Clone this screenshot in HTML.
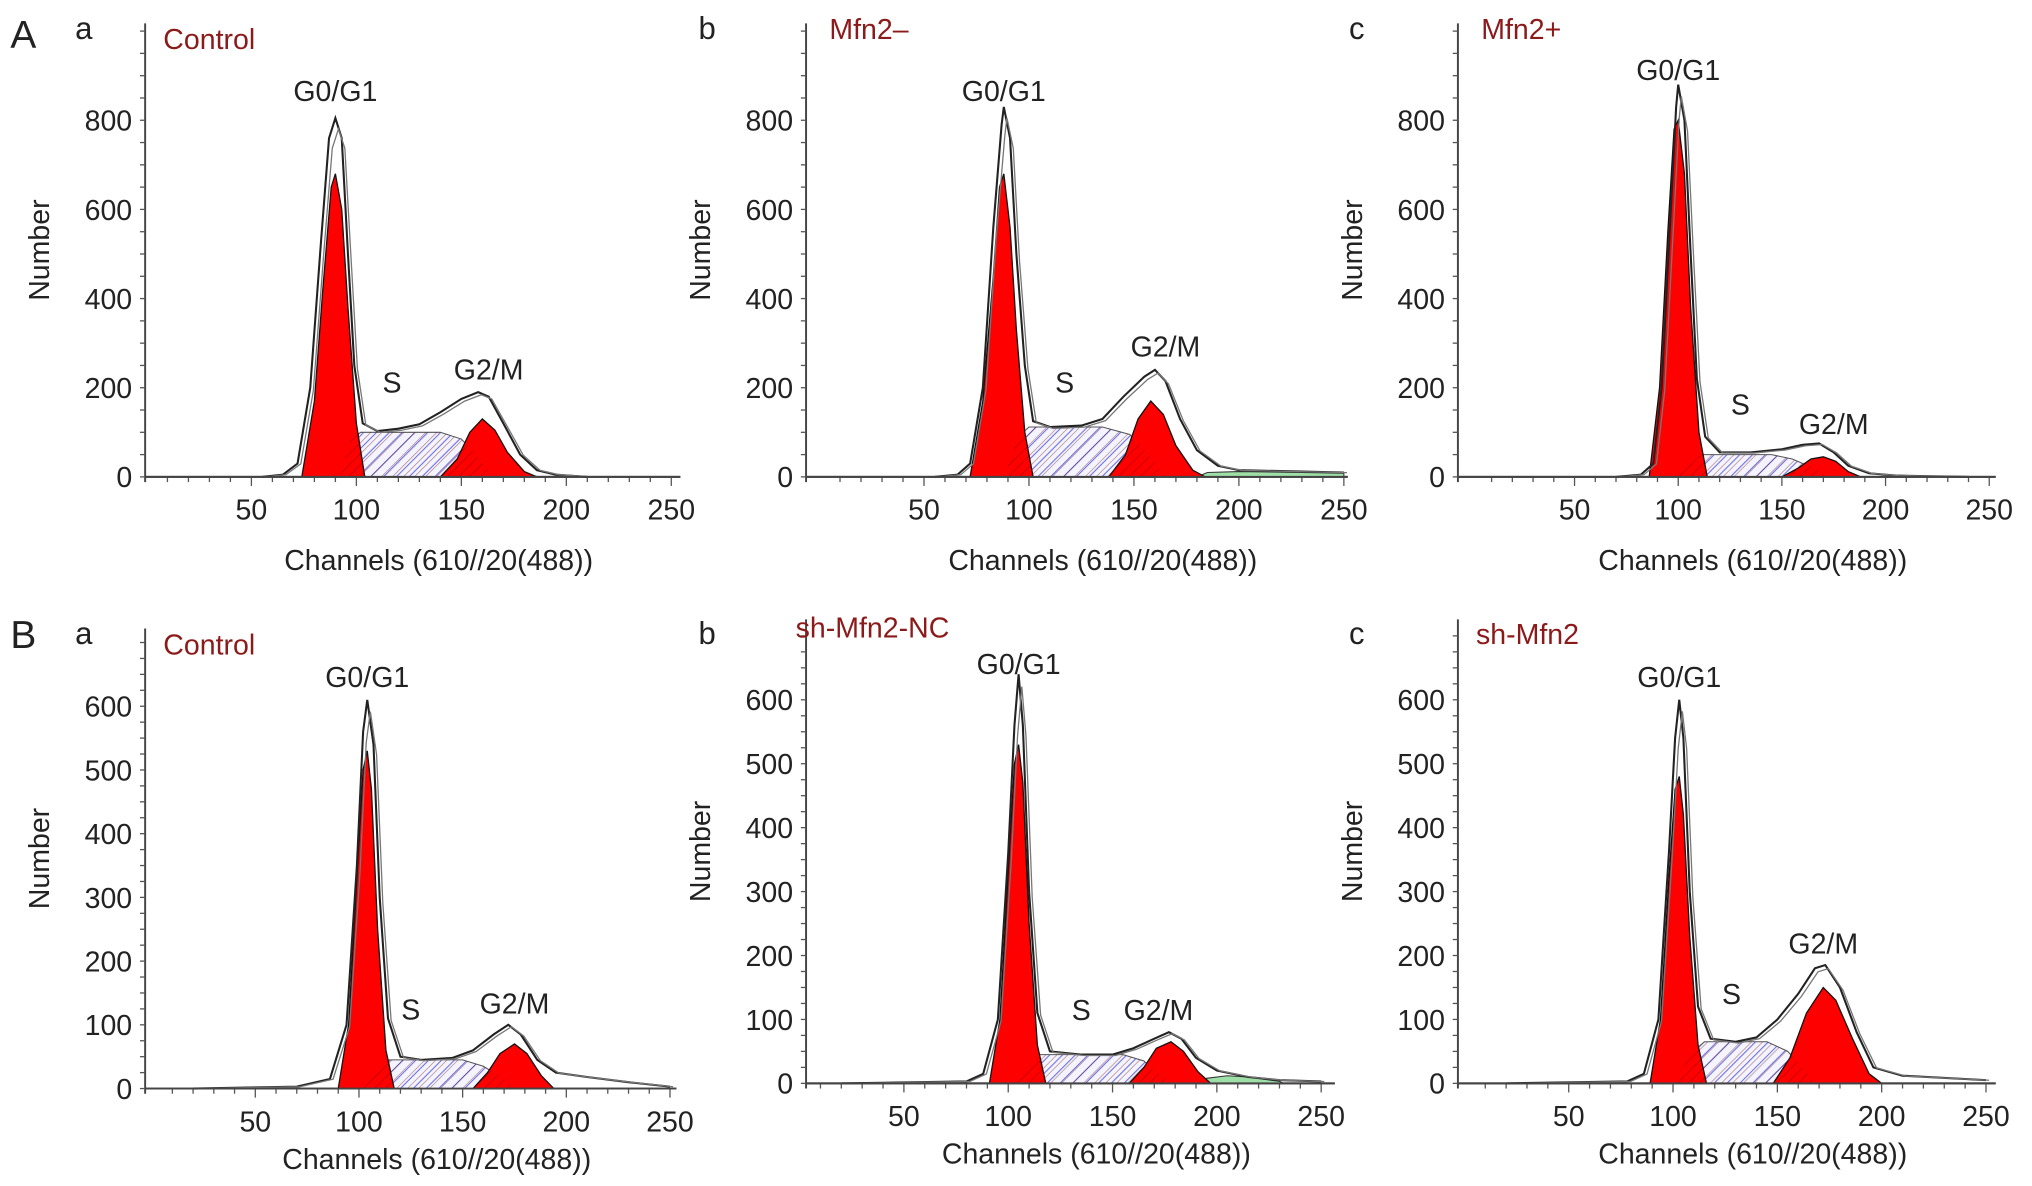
<!DOCTYPE html>
<html><head><meta charset="utf-8"><style>
html,body{margin:0;padding:0;background:#fff;}
svg{display:block;}
text{font-family:"Liberation Sans",Arial,sans-serif;fill:#222;}
</style></head><body>
<svg id="fig" width="2032" height="1186" viewBox="0 0 1568 915.2" preserveAspectRatio="none" xmlns="http://www.w3.org/2000/svg">
<defs>
<pattern id="hatch" patternUnits="userSpaceOnUse" width="7" height="7" patternTransform="rotate(45)">
<rect width="7" height="7" fill="#f4f4ff"/><line x1="0" y1="0" x2="0" y2="7" stroke="#6a6ae0" stroke-width="1.6"/></pattern>
<pattern id="hatchR" patternUnits="userSpaceOnUse" width="6" height="6" patternTransform="rotate(45)">
<line x1="0" y1="0" x2="0" y2="6" stroke="#600" stroke-width="1"/></pattern>
</defs>
<text x="8" y="37" font-size="30">A</text>
<text x="8" y="500" font-size="30">B</text>
</svg>
<script>
// ---- data (channel, count) ----
const panelTitles = ["Control","Mfn2–","Mfn2+","Control","sh-Mfn2-NC","sh-Mfn2"];
const subLetters = ["a","b","c","a","b","c"];
const yTickLabelsA = [0,200,400,600,800];
const yTickLabelsB = [0,100,200,300,400,500,600];
const xTickLabels = [50,100,150,200,250];

const envA1 = [[55,0],[65,5],[72,30],[78,200],[83,520],[87,760],[90,805],[93,760],[96,500],[99,250],[103,120],[110,103],[120,108],[130,118],[140,145],[150,175],[158,190],[163,180],[170,120],[178,50],[186,15],[195,5],[210,0]];
const g1A1 = [[74,0],[80,170],[84,420],[88,650],[90,680],[93,600],[96,380],[100,120],[104,0]];
const sA1 = [[92,0],[97,80],[102,100],[140,100],[150,85],[158,45],[165,0]];
const g2A1 = [[140,0],[148,40],[154,100],[160,130],[166,105],[172,55],[180,12],[186,0]];
const dbA1 = [];

const envA2 = [[55,0],[66,5],[72,30],[78,200],[83,560],[87,790],[88,830],[91,760],[94,500],[98,250],[102,125],[110,112],[125,115],[135,130],[145,180],[155,225],[160,240],[165,215],[172,130],[180,60],[190,25],[200,15],[250,10]];
const g1A2 = [[72,0],[78,170],[83,450],[86,650],[88,680],[91,560],[94,330],[98,100],[102,0]];
const sA2 = [[88,0],[95,90],[100,112],[135,112],[148,95],[155,60],[165,0]];
const g2A2 = [[138,0],[146,50],[152,130],[158,170],[164,140],[170,70],[178,15],[184,0]];
const dbA2 = [[180,0],[185,10],[200,12],[230,10],[250,8],[250,0]];

const envA3 = [[70,0],[82,5],[88,30],[92,200],[96,560],[99,830],[100,880],[103,800],[106,500],[109,220],[113,90],[120,55],[135,55],[150,62],[160,72],[168,75],[175,55],[182,25],[192,8],[205,3],[240,0]];
const g1A3 = [[86,0],[91,200],[95,550],[98,780],[100,800],[103,680],[106,380],[110,100],[114,0]];
const sA3 = [[100,0],[106,40],[112,50],[145,50],[155,40],[165,20],[172,0]];
const g2A3 = [[150,0],[158,20],[164,40],[170,45],[176,35],[182,12],[188,0]];
const dbA3 = [];

const envB1 = [[20,0],[70,3],[86,15],[94,100],[99,350],[102,560],[104,610],[107,540],[110,300],[114,110],[120,50],[130,45],[145,48],[155,60],[165,85],[172,100],[178,85],[186,45],[195,25],[210,18],[230,10],[250,3]];
const g1B1 = [[90,0],[95,100],[99,330],[102,500],[104,530],[106,470],[109,250],[113,60],[117,0]];
const sB1 = [[102,0],[108,30],[114,45],[150,45],[160,35],[170,15],[176,0]];
const g2B1 = [[155,0],[162,25],[168,55],[175,70],[181,55],[188,20],[194,0]];
const dbB1 = [];

const envB2 = [[20,0],[80,3],[88,15],[95,100],[100,360],[103,560],[105,640],[107,560],[110,300],[114,110],[120,50],[135,45],[150,45],[160,55],[170,70],[177,80],[183,70],[190,40],[200,20],[215,10],[230,5],[250,3]];
const g1B2 = [[91,0],[96,100],[100,330],[103,500],[105,530],[107,470],[110,250],[114,60],[118,0]];
const sB2 = [[103,0],[109,30],[115,45],[155,45],[165,35],[172,15],[178,0]];
const g2B2 = [[158,0],[165,25],[171,55],[178,65],[184,50],[191,18],[197,0]];
const dbB2 = [[190,0],[195,8],[205,12],[215,10],[230,3],[232,0]];

const envB3 = [[20,0],[78,3],[86,15],[93,100],[98,360],[101,540],[103,600],[105,540],[108,300],[112,120],[118,70],[130,65],[140,72],[150,100],[160,140],[168,180],[173,185],[180,150],[188,80],[196,25],[210,12],[250,5]];
const g1B3 = [[89,0],[94,100],[98,320],[101,460],[103,480],[105,420],[108,230],[112,60],[116,0]];
const sB3 = [[101,0],[108,45],[115,65],[145,65],[155,50],[162,25],[168,0]];
const g2B3 = [[148,0],[156,40],[164,110],[172,150],[178,130],[186,70],[194,15],[200,0]];
const dbB3 = [];

const envs=[envA1,envA2,envA3,envB1,envB2,envB3];
const g1s=[g1A1,g1A2,g1A3,g1B1,g1B2,g1B3];
const ss=[sA1,sA2,sA3,sB1,sB2,sB3];
const g2s=[g2A1,g2A2,g2A3,g2B1,g2B2,g2B3];
const dbs=[dbA1,dbA2,dbA3,dbB1,dbB2,dbB3];
// phase label anchors (channel,count)
const g1Label=[[90,843],[88,843],[100,890],[104,630],[105,640],[103,620]];
const sLabel=[[117,189],[117,189],[130,140],[125,108],[135,99],[128,124]];
const g2Label=[[163,218],[165,270],[175,96],[175,118],[172,99],[172,203]];

// ---- layout (pixels in 1568-wide view) ----
const geo=[
 {ax:112,x0:113,kx:1.62,y0:368,ky:0.344,right:525,top:18,ymax:1000,minor:50,ticks:yTickLabelsA,row:0,col:0},
 {ax:622,x0:632,kx:1.62,y0:368,ky:0.344,right:1040,top:18,ymax:1000,minor:50,ticks:yTickLabelsA,row:0,col:1},
 {ax:1125,x0:1135,kx:1.60,y0:368,ky:0.344,right:1540,top:18,ymax:1000,minor:50,ticks:yTickLabelsA,row:0,col:2},
 {ax:112,x0:117,kx:1.60,y0:840,ky:0.4917,right:522,top:485,ymax:720,minor:25,ticks:yTickLabelsB,row:1,col:0},
 {ax:622,x0:617,kx:1.61,y0:836,ky:0.4933,right:1030,top:478,ymax:720,minor:25,ticks:yTickLabelsB,row:1,col:1},
 {ax:1125,x0:1130,kx:1.61,y0:836,ky:0.4933,right:1540,top:478,ymax:720,minor:25,ticks:yTickLabelsB,row:1,col:2}
];
const titleXY=[[126,38],[640,30],[1143,30],[126,505],[614,492],[1139,497]];
const subX=[58,539,1041];
const NS="http://www.w3.org/2000/svg";
const svg=document.getElementById('fig');
function mk(tag,attrs,parent){const e=document.createElementNS(NS,tag);for(const k in attrs)e.setAttribute(k,attrs[k]);(parent||svg).appendChild(e);return e;}
geo.forEach((g,i)=>{
 const grp=mk('g',{});
 
 
 const X=c=>g.x0+c*g.kx, Y=v=>g.y0-v*g.ky;
 const pts=a=>a.map(p=>X(p[0]).toFixed(1)+','+Y(p[1]).toFixed(1)).join(' ');
 const ya=mk('line',{x1:g.ax,y1:g.top,x2:g.ax,y2:g.y0+4,stroke:'#444','stroke-width':1.5},grp);
 
 
 const xa=mk('line',{x1:g.ax,y1:g.y0,x2:g.right,y2:g.y0,stroke:'#444','stroke-width':1.5},grp);
 
 
 for(let v=0;v<=g.ymax;v+=g.minor){mk('line',{x1:g.ax-4,y1:Y(v),x2:g.ax,y2:Y(v),stroke:'#555','stroke-width':1},grp);}
 g.ticks.forEach(t=>{const tx=mk('text',{x:g.ax-10,y:Y(t)+8,'font-size':22,'text-anchor':'end'},grp);tx.textContent=t;
  
  });
 for(let c=10;c<=250;c+=10){mk('line',{x1:X(c),y1:g.y0,x2:X(c),y2:g.y0+(c%50?4:7),stroke:'#555','stroke-width':1},grp);}
 xTickLabels.forEach(t=>{const tx=mk('text',{x:X(t),y:g.y0+33,'font-size':22,'text-anchor':'middle'},grp);tx.textContent=t;
  
  });
 const xt=mk('text',{x:(g.ax+g.right)/2+20,y:g.y0+(g.row?62:72),'font-size':22,'text-anchor':'middle'},grp);xt.textContent='Channels (610//20(488))';
 
 
 const yc=(g.top+g.y0)/2;
 const yt=mk('text',{x:g.ax-74,y:yc,'font-size':22,'text-anchor':'middle',transform:`rotate(-90 ${g.ax-74} ${yc})`},grp);yt.textContent='Number';
 
 
 if(dbs[i].length){const d=mk('polygon',{points:pts(dbs[i]),fill:'#9fe0a8',stroke:'#333','stroke-width':0.8},grp);
  
  }
 const s=mk('polygon',{points:pts(ss[i]),fill:'url(#hatch)',stroke:'#555','stroke-width':0.8},grp);
 
 
 const r1=mk('polygon',{points:pts(g1s[i]),fill:'#f00',stroke:'#111','stroke-width':1},grp);
 
 
 const r2=mk('polygon',{points:pts(g2s[i]),fill:'#f00',stroke:'#111','stroke-width':1},grp);
 
 
 mk('polygon',{points:pts(ss[i]),fill:'url(#hatchR)',opacity:0.5},grp);
 const e1=mk('polyline',{points:pts(envs[i]),fill:'none',stroke:'#222','stroke-width':1.6},grp);
 
 
 mk('polyline',{points:pts(envs[i].map(p=>[p[0]+1.5,p[1]*0.97])),fill:'none',stroke:'#777','stroke-width':1},grp);
 mk('line',{x1:g.ax,y1:g.y0,x2:g.right,y2:g.y0,stroke:'#444','stroke-width':1.5},grp);
 [[g1Label[i],'G0/G1','g0g1-label'],[sLabel[i],'S','s-phase-label'],[g2Label[i],'G2/M','g2m-label']].forEach(L=>{
  const t=mk('text',{x:X(L[0][0]),y:Y(L[0][1]),'font-size':22,'text-anchor':'middle'},grp);t.textContent=L[1];
  
  });
 const ti=mk('text',{x:titleXY[i][0],y:titleXY[i][1],'font-size':22,style:'fill:#8b1a1a'},grp);ti.textContent=panelTitles[i];
 
 
 const sl=mk('text',{x:subX[g.col],y:g.row?497:30,'font-size':24},grp);sl.textContent=subLetters[i];
 
 
});
</script>
</body></html>
